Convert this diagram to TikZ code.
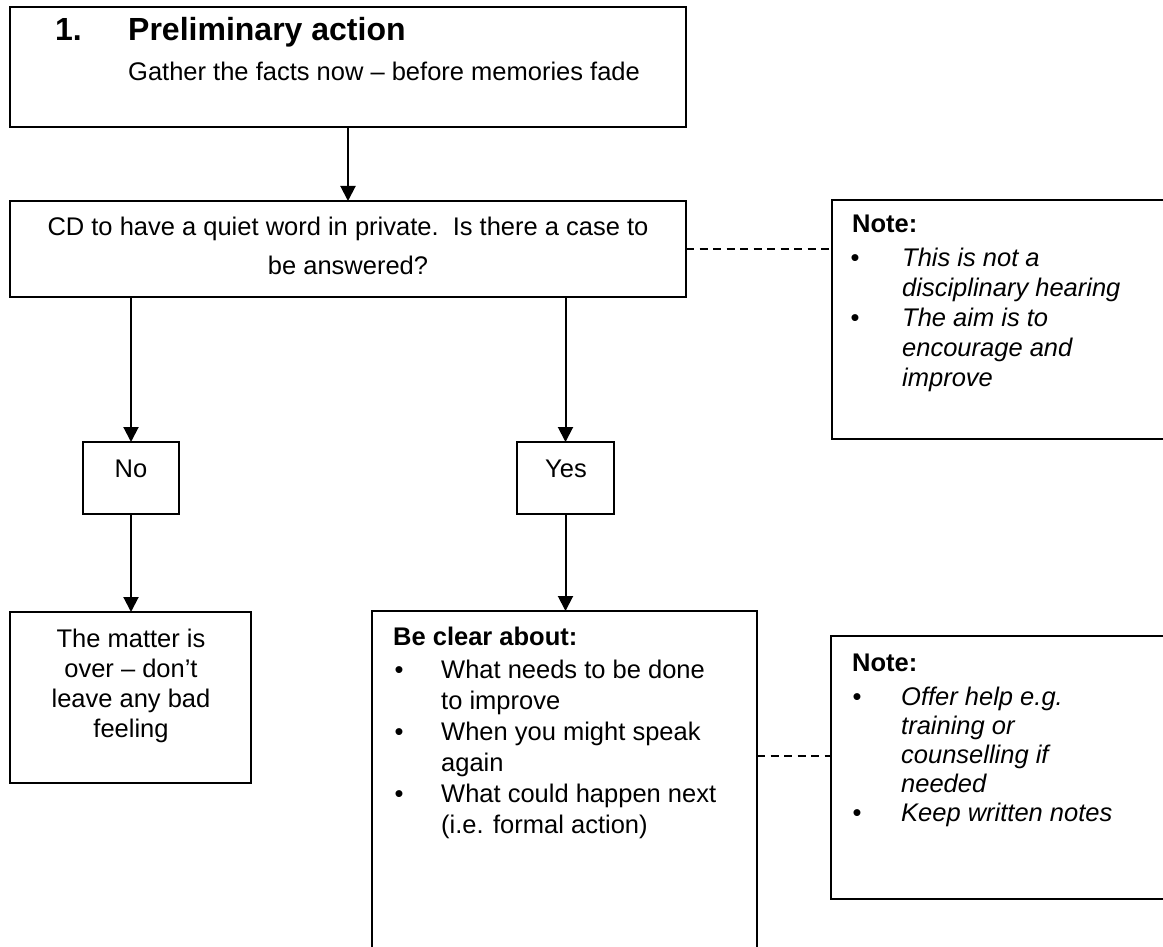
\documentclass[tikz,border=0pt]{standalone}
\usepackage{fontspec}
\setmainfont{Liberation Sans}
\usetikzlibrary{arrows.meta}
\begin{document}
\begin{tikzpicture}[x=1pt,y=-1pt,
  box/.style={draw, line width=2pt, anchor=north west, inner sep=0pt, outer sep=0pt},
  arr/.style={line width=2pt, -{Triangle[length=15pt,width=15pt]}},
  dashline/.style={line width=1.5pt, dash pattern=on 8pt off 5.5pt},
  txt/.style={anchor=base west, inner sep=0pt, font=\fontsize{25.5}{30}\selectfont},
  ctxt/.style={anchor=base, inner sep=0pt, font=\fontsize{25.5}{30}\selectfont},
  itxt/.style={txt, font=\fontsize{25.5}{30}\selectfont\itshape},
  btxt/.style={txt, font=\fontsize{25.5}{30}\selectfont\bfseries},
  htxt/.style={anchor=base west, inner sep=0pt, font=\fontsize{32}{38}\selectfont\bfseries},
  bul/.style={anchor=base, inner sep=0pt, font=\fontsize{25.5}{30}\selectfont}
]
\useasboundingbox (0,0) rectangle (1163,947);
\clip (0,0) rectangle (1163,947);

% boxes
\node[box, minimum width=676pt, minimum height=120pt] (top) at (10,7) {};
\node[box, minimum width=676pt, minimum height=96pt] (cd) at (10,201) {};
\node[box, minimum width=345pt, minimum height=239pt] (note1) at (832,200) {};
\node[box, minimum width=96pt, minimum height=72pt] (no) at (83,442) {};
\node[box, minimum width=97pt, minimum height=72pt] (yes) at (517,442) {};
\node[box, minimum width=241pt, minimum height=171pt] (matter) at (10,612) {};
\node[box, minimum width=385pt, minimum height=360pt] (clear) at (372,611) {};
\node[box, minimum width=345pt, minimum height=263pt] (note2) at (831,636) {};

% top box text
\node[htxt] (h1) at (55,41) {1.};
\node[htxt] (h2) at (128,41) {Preliminary action};
\node[txt] (g) at (128,81) {Gather the facts now – before memories fade};

% CD text
\node[ctxt] (cd1) at (348,236) {CD to have a quiet word in private.\ \ Is there a case to};
\node[ctxt] (cd2) at (348,274) {be answered?};

% note 1
\node[btxt] (n1h) at (852,233) {Note:};
\node[bul] (n1b1) at (855,266) {•};
\node[itxt] (n1l1) at (902,266) {This is not a};
\node[itxt] (n1l2) at (902,296) {disciplinary hearing};
\node[bul] (n1b2) at (855,326) {•};
\node[itxt] (n1l3) at (902,326) {The aim is to};
\node[itxt] (n1l4) at (902,356) {encourage and};
\node[itxt] (n1l5) at (902,386) {improve};

% No / Yes
\node[ctxt] (notxt) at (131,477) {No};
\node[ctxt] (yestxt) at (566,477) {Yes};

% matter
\node[ctxt] (m1) at (131,647) {The matter is};
\node[ctxt] (m2) at (131,677) {over – don’t};
\node[ctxt] (m3) at (131,707) {leave any bad};
\node[ctxt] (m4) at (131,737) {feeling};

% be clear
\node[btxt] (c0) at (393,645) {Be clear about:};
\node[bul] (cb1) at (399,678) {•};
\node[txt] (c1) at (441,678) {What needs to be done};
\node[txt] (c2) at (441,709) {to improve};
\node[bul] (cb2) at (399,740) {•};
\node[txt] (c3) at (441,740) {When you might speak};
\node[txt] (c4) at (441,771) {again};
\node[bul] (cb3) at (399,802) {•};
\node[txt] (c5) at (441,802) {What could happen next};
\node[txt] (c6) at (441,833) {(i.e. formal action)};

% note 2
\node[btxt] (n2h) at (852,671) {Note:};
\node[bul] (n2b1) at (857,705) {•};
\node[itxt] (n2l1) at (901,705) {Offer help e.g.};
\node[itxt] (n2l2) at (901,734) {training or};
\node[itxt] (n2l3) at (901,763) {counselling if};
\node[itxt] (n2l4) at (901,792) {needed};
\node[bul] (n2b2) at (857,821) {•};
\node[itxt] (n2l5) at (901,821) {Keep written notes};

% connectors
\draw[arr] (top.south) -- (cd.north);
\draw[arr] (cd.south -| no.north) -- (no.north);
\draw[arr] (cd.south -| yes.north) -- (yes.north);
\draw[arr] (no.south) -- (no.south |- matter.north);
\draw[arr] (yes.south) -- (yes.south |- clear.north);
\draw[dashline] (cd.east) -- (cd.east -| note1.west);
\coordinate (d2) at (757,756);
\draw[dashline] (d2) -- (d2 -| note2.west);
\end{tikzpicture}
\end{document}
